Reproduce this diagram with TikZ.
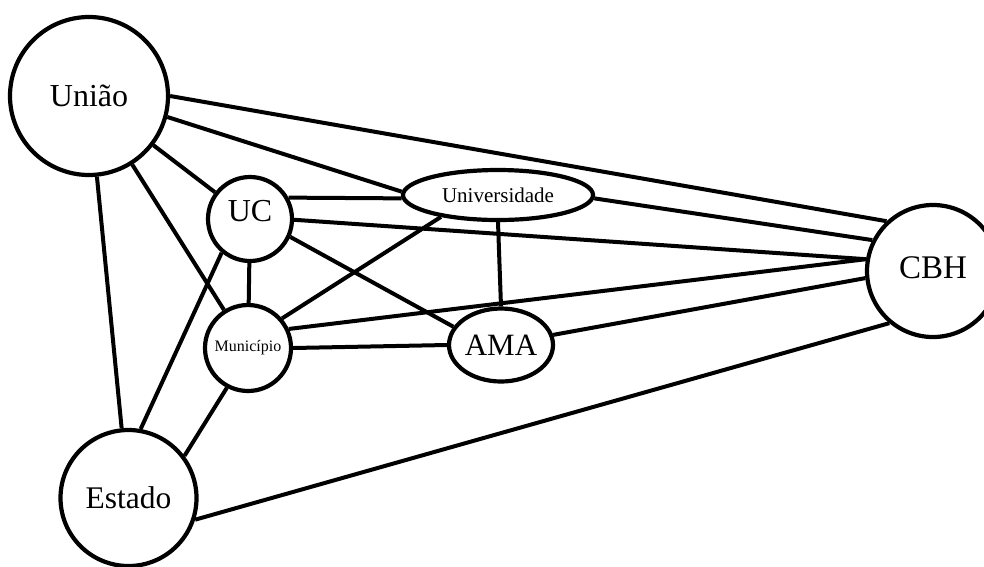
\documentclass[tikz,border=0pt]{standalone}
\usepackage{fontspec}
\setmainfont{Liberation Serif}
\usetikzlibrary{shapes.geometric,backgrounds}
\begin{document}
\begin{tikzpicture}[x=1pt,y=-1pt,
  actor/.style={circle,draw,line width=4.2pt,inner sep=0pt,fill=white},
  oval/.style={ellipse,draw,line width=4.2pt,inner sep=0pt,fill=white},
  link/.style={line width=4pt}]
\useasboundingbox (0,0) rectangle (984,566);
\clip (0,0) rectangle (984,566);
\node[actor,minimum size=158pt,font=\fontsize{32}{36}\selectfont] (uniao) at (89,96) {União};
\node[actor,minimum size=84pt,font=\fontsize{32}{36}\selectfont,text depth=16pt] (uc) at (250,219) {UC};
\node[oval,minimum width=190pt,minimum height=50pt,font=\fontsize{21}{24}\selectfont] (univ) at (498,195) {Universidade};
\node[actor,minimum size=86pt,font=\fontsize{16}{18}\selectfont] (mun) at (248,348) {Município};
\node[oval,minimum width=104pt,minimum height=73pt,font=\fontsize{31}{34}\selectfont] (ama) at (501,345) {AMA};
\node[actor,minimum size=132pt,font=\fontsize{33}{36}\selectfont,text depth=7pt] (cbh) at (933,271) {CBH};
\node[actor,minimum size=136pt,font=\fontsize{31.5}{34}\selectfont] (est) at (128.5,498) {Estado};
\begin{scope}[on background layer]
\draw[link] (uniao.0) -- (cbh.133);
\draw[link] (uniao.-15) -- (univ.178);
\draw[link] (uniao) -- (uc);
\draw[link] (uniao) -- (mun);
\draw[link] (uniao) -- (est);
\draw[link] (uc.29) -- (univ.182);
\draw[link] (uc.-1) -- (cbh.170);
\draw[link] (uc.-24) -- (ama.159);
\draw[link] (uc) -- (mun);
\draw[link] (uc.230) -- (est.80);
\draw[link] (univ.-2) -- (cbh.153);
\draw[link] (univ.south) -- (ama.north);
\draw[link] (univ.201) -- (mun.41);
\draw[link] (mun.25) -- (cbh.170);
\draw[link] (mun.east) -- (ama.west);
\draw[link] (mun.242) -- (est.37);
\draw[link] (ama.11) -- (cbh.186);
\draw[link] (est.-18) -- (cbh.230);
\end{scope}
\end{tikzpicture}
\end{document}
